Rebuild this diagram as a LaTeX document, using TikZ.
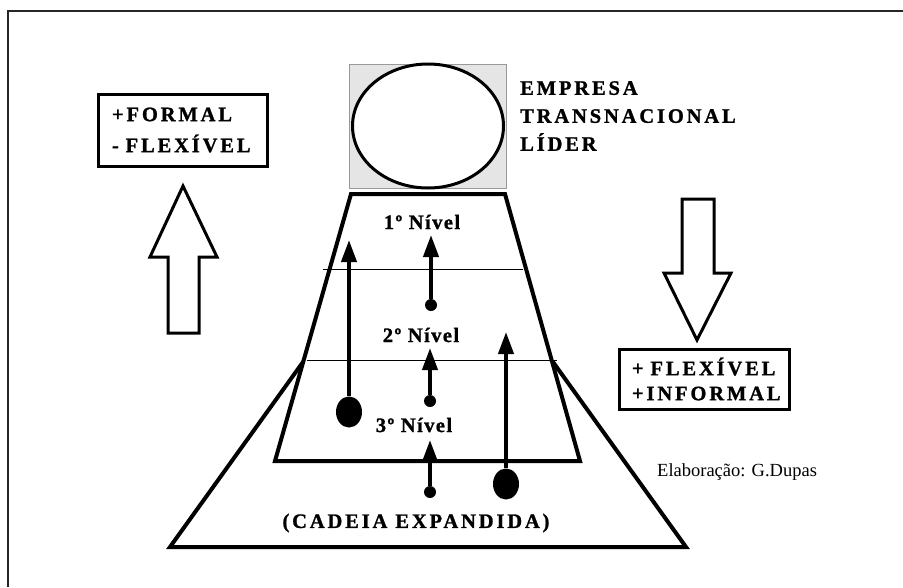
\documentclass[tikz,border=0pt]{standalone}
\usepackage{fontspec}
\setmainfont{Liberation Serif}
\usetikzlibrary{arrows.meta,shapes.geometric}
\newcommand{\capsfont}[1]{\fontsize{20.5}{#1}\selectfont\bfseries\addfontfeatures{LetterSpace=14,FakeBold=1.2}}
\begin{document}
\begin{tikzpicture}[x=1pt,y=-1pt,
		caps/.style={
			font=\capsfont{28},
			inner sep=0pt},
		lvl/.style={
			font=\fontsize{20.5}{28}\selectfont\bfseries\addfontfeatures{LetterSpace=7,FakeBold=1.2},
			inner sep=0pt},
		box/.style={
			draw, line width=3pt,
			inner sep=0pt,
			align=left},
		dot/.style={shape=circle, fill, inner sep=0pt, minimum size=12pt},
		bigdot/.style={shape=ellipse, fill, inner sep=0pt,
			minimum width=26pt, minimum height=31pt},
		arr/.style={line width=4pt, -{Triangle[length=22pt,width=15pt]}},
		shell/.style={line width=4pt, line join=miter, fill=white},
		hollow/.style={line width=3pt, line join=miter, fill=white}]
			\useasboundingbox (0,0) rectangle (903,587);
			% frame
			\draw [line width=1.5pt, black!85] (8,587) -- (8,11) -- (903,11);
			% the leading firm
			\draw [fill=black!10, draw=black!40, line width=0.6pt] (349,64) rectangle (506,188);
			\node [shape=ellipse, draw, line width=3pt, fill=white,
				minimum width=151pt, minimum height=124pt] (firm) at (428,126) {};
			\node [caps, align=left, anchor=west] (firmlbl) at (520,116) {EMPRESA\\TRANSNACIONAL\\LÍDER};
			% chain
			\draw [shell] (170,547) -- (303,362) -- (553,362) -- (686,547) -- cycle;
			\draw [shell] (351,194) -- (505,194) -- (580,461) -- (275,461) -- cycle;
			\draw [line width=0.6pt] (323,269) -- (523,269);
			\draw [line width=0.6pt] (307,360) -- (557,360);
			\node [lvl] (n1) at (422,222) {1º Nível};
			\node [lvl] (n2) at (421,335) {2º Nível};
			\node [lvl] (n3) at (414,425) {3º Nível};
			\node [caps] (chain) at (416,523) {(CADEIA EXPANDIDA)};
			% links between levels
			\node [dot] (d1) at (431,305) {};
			\node [dot] (d2) at (430,401) {};
			\node [dot] (d3) at (430,492) {};
			\node [bigdot] (b1) at (349,412) {};
			\node [bigdot] (b2) at (506,484) {};
			\coordinate (t1) at (431,235);
			\coordinate (t2) at (430,348);
			\coordinate (t3) at (430,440);
			\coordinate (t4) at (349,240);
			\coordinate (t5) at (506,332);
			\draw [arr] (d1) edge (t1);
			\draw [arr] (d2) edge (t2);
			\draw [arr] (d3) edge (t3);
			\draw [arr] (b1) edge (t4);
			\draw [arr] (b2) edge (t5);
			% sides
			\node [box, caps, minimum width=169pt, minimum height=72pt, text width=141pt,
				font=\capsfont{31}] (formal) at (182.5,130) {+FORMAL\\- FLEXÍVEL};
			\draw [hollow] (168,333) -- (168,257) -- (150,257) -- (183,186) -- (217,257) -- (199,257) -- (199,333) -- cycle;
			\draw [hollow] (682,199) -- (714,199) -- (714,273) -- (731,273) -- (697,340) -- (664,273) -- (682,273) -- cycle;
			\node [box, caps, minimum width=170pt, minimum height=60pt, text width=144pt,
				font=\capsfont{25}] (informal) at (704,379) {+ FLEXÍVEL\\+INFORMAL};
			\node [anchor=west, inner sep=0pt, font=\fontsize{18.5}{20}\selectfont] (credit) at (657,472) {Elaboração: G.Dupas};
		\end{tikzpicture}
\end{document}
